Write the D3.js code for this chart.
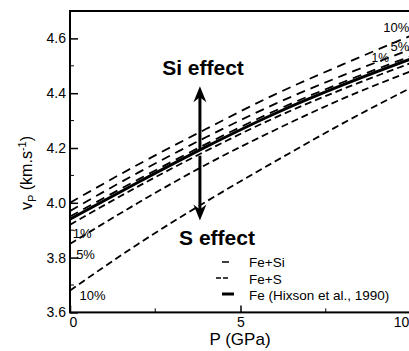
<!DOCTYPE html>
<html>
<head>
<meta charset="utf-8">
<script src="https://d3js.org/d3.v7.min.js"></script>
<style>
  body { margin: 0; background: #fff; }
  svg, text { font-family: "Liberation Sans", Arial, Helvetica, sans-serif; fill: #000; }
</style>
</head>
<body>
<div id="chart"></div>
<script>
// pressure grid (GPa)
var pressure = [0, 2, 4, 6, 8, 10];
// P-wave velocity (km/s)
var feHixson = [3.94, 4.075, 4.205, 4.325, 4.43, 4.525];
var feSi1  = [3.95, 4.085, 4.215, 4.335, 4.44, 4.535];
var feSi5  = [3.97, 4.11, 4.24, 4.36, 4.465, 4.56];
var feSi10 = [4.00, 4.14, 4.27, 4.395, 4.505, 4.61];
var feS1   = [3.92, 4.06, 4.19, 4.31, 4.415, 4.51];
var feS5   = [3.85, 4.00, 4.14, 4.265, 4.38, 4.48];
var feS10  = [3.68, 3.85, 4.005, 4.15, 4.29, 4.42];

var xTicks = [0, 5, 10];
var xMinor = [2.5, 7.5];
var yTicks = [3.6, 3.8, 4.0, 4.2, 4.4, 4.6];
var yMinor = [3.7, 3.9, 4.1, 4.3, 4.5];
var legendLabels = ["Fe+Si", "Fe+S", "Fe (Hixson et al., 1990)"];

var W = 409, H = 351;
var FONT = "'Liberation Sans', Arial, Helvetica, sans-serif";
var margin = {top: 11, left: 70};
var width = 341, height = 301.4;

var svg = d3.select("#chart").append("svg")
    .attr("width", W).attr("height", H)
    .attr("font-family", FONT);
var g = svg.append("g")
    .attr("transform", "translate(" + margin.left + "," + margin.top + ")");

var x = d3.scaleLinear().domain([0, 10]).range([0, width]);
var y = d3.scaleLinear().domain([3.6, 4.7]).range([height, 0]);

svg.append("defs").append("clipPath").attr("id", "clip")
  .append("rect").attr("width", width).attr("height", height);

var line = d3.line()
    .x(function(d) { return x(d[0]); })
    .y(function(d) { return y(d[1]); })
    .curve(d3.curveMonotoneX);

function pairs(vals) { return pressure.map(function(p, i) { return [p, vals[i]]; }); }

var plot = g.append("g").attr("clip-path", "url(#clip)");

// Fe solid
plot.append("path").datum(pairs(feHixson))
    .attr("d", line).attr("fill", "none")
    .attr("stroke", "#000").attr("stroke-width", 3);

[feSi1, feSi5, feSi10].forEach(function(s) {
  plot.append("path").datum(pairs(s))
    .attr("d", line).attr("fill", "none")
    .attr("stroke", "#000").attr("stroke-width", 1.8)
    .attr("stroke-dasharray", "9,6");
});
[feS1, feS5, feS10].forEach(function(s) {
  plot.append("path").datum(pairs(s))
    .attr("d", line).attr("fill", "none")
    .attr("stroke", "#000").attr("stroke-width", 1.8)
    .attr("stroke-dasharray", "7,4");
});

// frame
g.append("rect").attr("width", width).attr("height", height)
  .attr("fill", "none").attr("stroke", "#000").attr("stroke-width", 2);

// axes with inward ticks
var xAxis = g.append("g").attr("transform", "translate(0," + height + ")")
  .call(d3.axisBottom(x).tickValues(xTicks).tickSizeInner(-7).tickSizeOuter(0).tickPadding(5)
        .tickFormat(d3.format("d")));
xAxis.append("g").selectAll("line").data(xMinor).enter().append("line")
  .attr("x1", x).attr("x2", x).attr("y1", 0).attr("y2", -4).attr("stroke", "#000");

var yAxis = g.append("g")
  .call(d3.axisLeft(y).tickValues(yTicks).tickSizeInner(-8).tickSizeOuter(0).tickPadding(4)
        .tickFormat(d3.format(".1f")));
yAxis.append("g").selectAll("line").data(yMinor).enter().append("line")
  .attr("y1", y).attr("y2", y).attr("x1", 0).attr("x2", 4).attr("stroke", "#000");

g.selectAll(".domain").remove();
g.selectAll("g.tick line").attr("stroke-width", 1.5);
g.selectAll(".tick text").attr("font-size", 14).attr("fill", "#000")
  .attr("font-family", FONT);
g.selectAll("g").attr("font-family", FONT);
xAxis.selectAll(".tick text").attr("dx", function(d) { return d === 0 ? 3 : d === 10 ? -10 : 0; });

// axis titles
svg.append("text").attr("x", 240).attr("y", 345)
  .attr("text-anchor", "middle").attr("font-size", 17).text("P (GPa)");

var yt = svg.append("text").attr("transform", "translate(32,173) rotate(-90)")
  .attr("text-anchor", "middle").attr("font-size", 16);
yt.append("tspan").text("v");
yt.append("tspan").attr("font-size", 11).attr("dy", 4).text("P");
yt.append("tspan").attr("dy", -4).text(" (km.s");
yt.append("tspan").attr("font-size", 11).attr("dy", -6).text("-1");
yt.append("tspan").attr("dy", 6).text(")");

// percentage labels
var rightLabels = [["10%", 4.625, 13], ["5%", 4.555, 13], ["1%", 4.515, 12]];
rightLabels.forEach(function(l, i) {
  g.append("text").attr("x", i === 2 ? x(9.35) : x(9.95)).attr("y", y(l[1]))
    .attr("text-anchor", "end").attr("font-size", l[2]).text(l[0]);
});
var leftLabels = [["1%", 3.87], ["5%", 3.795], ["10%", 3.645]];
leftLabels.forEach(function(l, i) {
  g.append("text").attr("x", x(0.08 + i * 0.1)).attr("y", y(l[1]))
    .attr("font-size", 13).text(l[0]);
});

// effect arrows
function arrow(p, v0, v1) {
  var xa = x(p), ya = y(v0), yb = y(v1);
  var dir = yb < ya ? 1 : -1;
  g.append("line").attr("x1", xa).attr("x2", xa).attr("y1", ya).attr("y2", yb + dir * 10)
    .attr("stroke", "#000").attr("stroke-width", 3);
  g.append("path")
    .attr("d", "M" + xa + "," + yb + " L" + (xa - 6.5) + "," + (yb + dir * 16) +
               " L" + xa + "," + (yb + dir * 11) + " L" + (xa + 6.5) + "," + (yb + dir * 16) + "Z")
    .attr("fill", "#000");
}
arrow(3.81, 4.194, 4.425);
arrow(3.81, 4.172, 3.935);

svg.append("text").attr("x", 203).attr("y", 75).attr("text-anchor", "middle")
  .attr("font-size", 21).attr("font-weight", "bold").text("Si effect");
svg.append("text").attr("x", 217).attr("y", 245).attr("text-anchor", "middle")
  .attr("font-size", 21).attr("font-weight", "bold").text("S effect");

// legend
var lg = svg.append("g");
legendLabels.forEach(function(t, i) {
  lg.append("text").attr("x", 249).attr("y", 267 + i * 16.5)
    .attr("font-size", 13.5).text(t);
});
lg.append("line").attr("x1", 222).attr("x2", 229).attr("y1", 262).attr("y2", 262)
  .attr("stroke", "#000").attr("stroke-width", 1.5);
lg.append("line").attr("x1", 216).attr("x2", 229).attr("y1", 278).attr("y2", 278)
  .attr("stroke", "#000").attr("stroke-width", 1.5).attr("stroke-dasharray", "5,2");
lg.append("line").attr("x1", 222).attr("x2", 234).attr("y1", 294).attr("y2", 294)
  .attr("stroke", "#000").attr("stroke-width", 3);
</script>
</body>
</html>
